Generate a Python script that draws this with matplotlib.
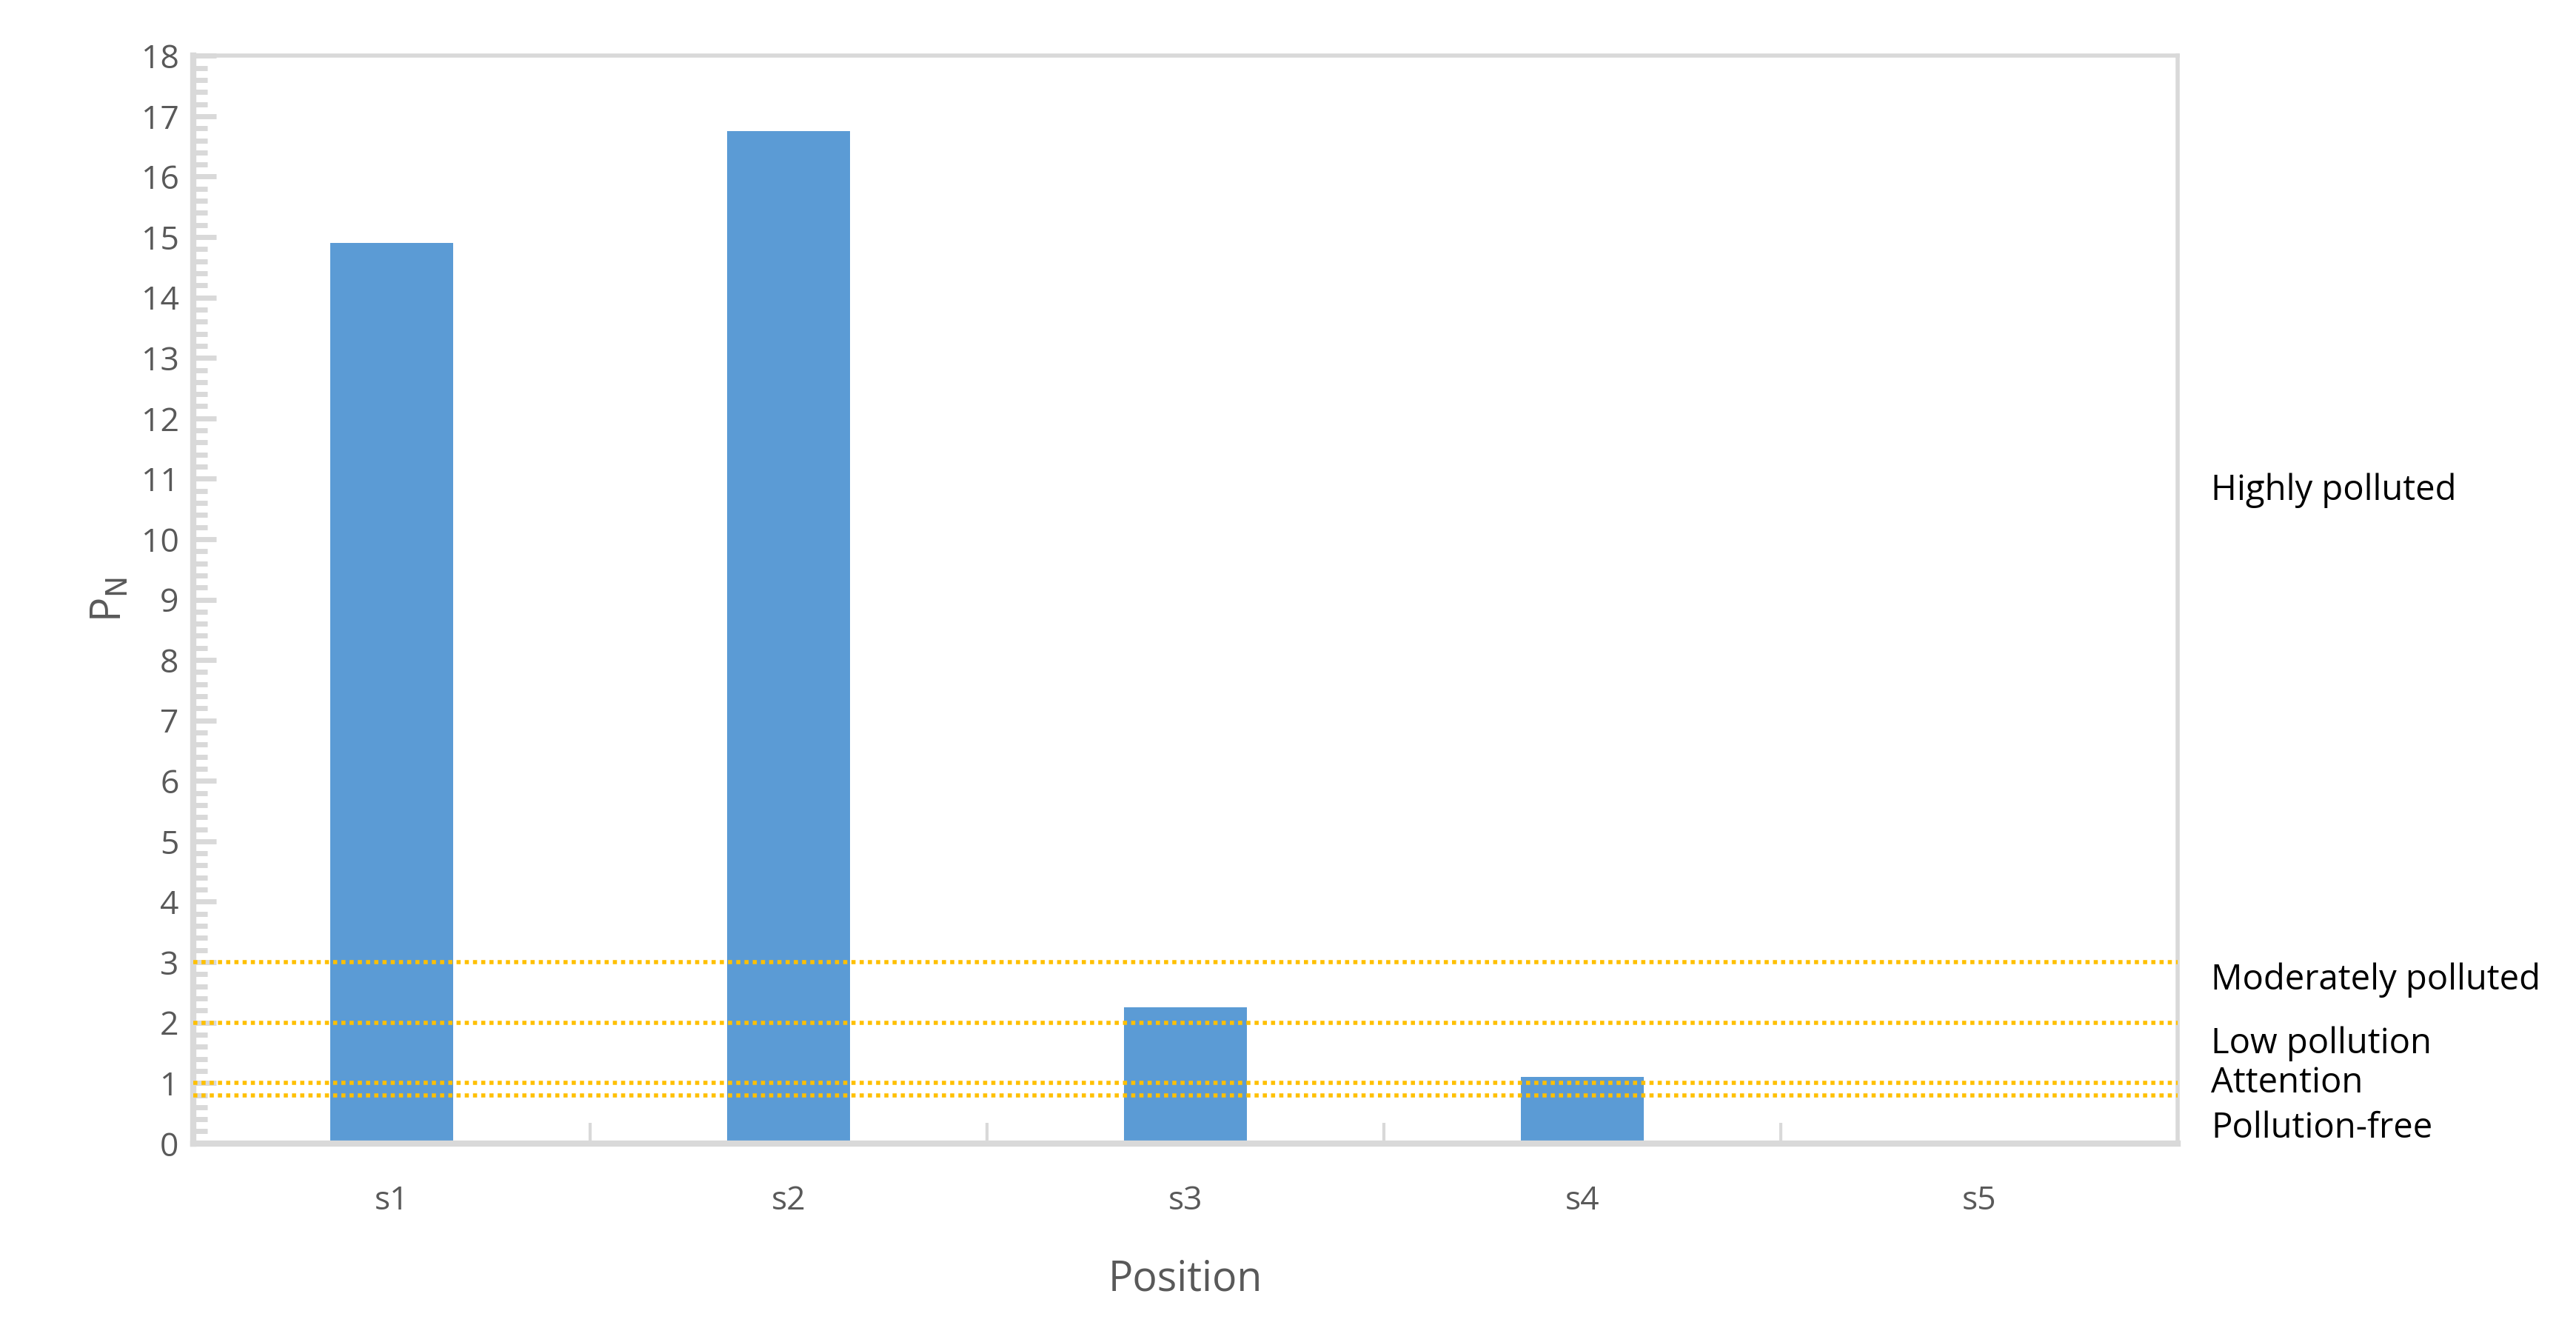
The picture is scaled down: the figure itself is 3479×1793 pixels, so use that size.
import matplotlib
matplotlib.use("Agg")
import matplotlib.pyplot as plt
from matplotlib.ticker import MultipleLocator

plt.rcParams['font.family'] = ['Open Sans', 'DejaVu Sans']

positions = ["s1", "s2", "s3", "s4", "s5"]
pn_values = [14.9, 16.75, 2.25, 1.1, 0.0]
thresholds = [3.0, 2.0, 1.0, 0.8]
level_labels = ["Highly polluted", "Moderately polluted", "Low pollution", "Attention", "Pollution-free"]
level_label_y = [10.8, 2.7, 1.65, 1.0, 0.25]

fig = plt.figure(figsize=(34.8, 17.93), dpi=100)
ax = fig.add_axes([0.075, 0.139, 0.770, 0.819])
x = range(len(positions))
ax.bar(x, pn_values, width=0.31, color="#5B9BD5", zorder=2)
for t in thresholds:
    ax.axhline(t, color="#FFC000", linestyle=(0, (1, 1)), linewidth=4, zorder=3)

ax.set_xlim(-0.5, 4.5)
ax.set_ylim(0, 18)
ax.yaxis.set_major_locator(MultipleLocator(1))
ax.yaxis.set_minor_locator(MultipleLocator(0.2))
ax.set_xticks(list(x))
ax.set_xticklabels(positions)
ax.set_xticks([0.5, 1.5, 2.5, 3.5], minor=True)
ax.tick_params(axis='x', which='major', length=0, pad=40, labelsize=32, labelcolor="#595959")
ax.tick_params(axis='x', which='minor', direction='in', length=20, width=3, color="#D9D9D9")
ax.tick_params(axis='y', which='major', direction='in', length=22, width=5, color="#D9D9D9", labelsize=32, labelcolor="#595959", pad=14)
ax.tick_params(axis='y', which='minor', direction='in', length=14, width=5, color="#D9D9D9")
for name, sp in ax.spines.items():
    sp.set_color("#D9D9D9")
    sp.set_linewidth(6 if name in ("left", "bottom") else 4)

ax.set_xlabel("Position", fontsize=40, color="#595959", labelpad=40)
ax.set_ylabel(r"P$_\mathrm{N}$", fontsize=40, color="#595959", labelpad=10)

for lab, yv in zip(level_labels, level_label_y):
    ax.text(1.017, yv, lab, transform=ax.get_yaxis_transform(), fontsize=34, va='center', ha='left', color="black")

fig.savefig("out.png", dpi=100)
